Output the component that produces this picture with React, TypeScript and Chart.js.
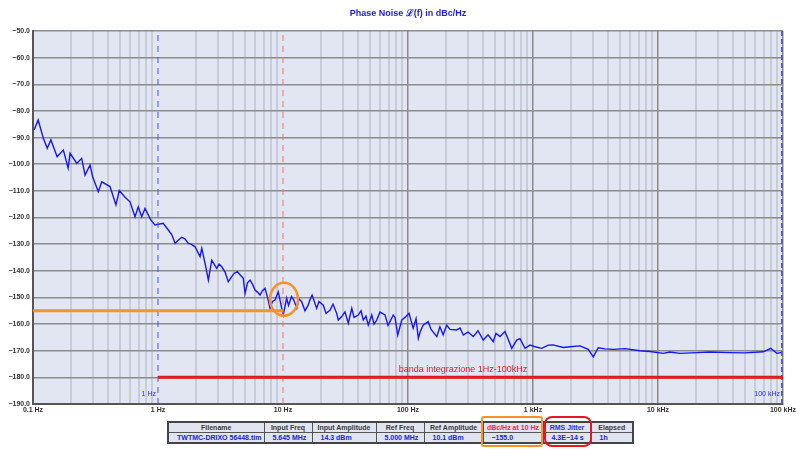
import React, { useEffect, useRef } from "react";
import { Chart, registerables } from "chart.js";

Chart.register(...registerables);

// ---------- data ----------
const freqHz = [
  0.102, 0.11, 0.121, 0.13, 0.139, 0.156, 0.175, 0.191, 0.198, 0.224, 0.245, 0.261, 0.286, 0.3, 0.333, 0.355,
  0.413, 0.461, 0.49, 0.545, 0.597, 0.655, 0.695, 0.741, 0.787, 0.875, 0.946,
  1.1, 1.21, 1.29, 1.37, 1.45, 1.55, 1.64, 1.75, 1.84, 1.98, 2.17, 2.24, 2.38, 2.53, 2.69, 2.95, 3.08, 3.24,
  3.44, 3.65, 3.89, 4.06, 4.31, 4.53, 4.81, 4.97, 5.2, 5.45, 5.7, 5.97, 6.25, 6.55, 6.85, 7.18, 7.52, 7.87,
  8.24, 8.63, 9.17, 9.77,
  10.05, 10.7, 11.07, 11.7, 12.2, 12.9, 13.4, 14.1, 15.0, 15.9, 16.4, 17.1, 18.6, 19.4, 21.0, 22.1, 23.8,
  25.1, 26.9, 27.7, 29.5, 31.3, 33.3, 35.5, 37.0, 40.0, 42.1, 43.9, 46.1, 48.1, 51.3, 53.5, 56.2, 59.7, 65.5,
  69.2, 71.8, 76.2, 78.7, 82.8, 89.1, 94.6,
  102, 110, 116, 121, 125, 132, 145, 153, 170, 180, 191, 204, 217, 245, 261, 277, 302, 333, 363, 400, 437,
  481, 506, 545, 597, 631, 676, 741, 787, 863, 946,
  1038, 1175, 1324, 1445, 1746, 1977, 2377, 2767, 3034, 3327, 3767, 4385, 5445, 7178, 8630,
  11015, 12470, 15000, 20417, 26060, 37670, 49660, 69500, 79800, 89100, 100000,
];
const phaseNoiseDbc = [
  -87.2, -83.4, -90.3, -94.0, -90.9, -97.2, -94.7, -101.5, -95.9, -99.7, -97.8, -104.1, -100.3, -104.7, -110.3, -106.6,
  -108.4, -115.3, -109.9, -112.4, -114.1, -119.7, -116.0, -119.7, -116.6, -120.9, -122.8,
  -122.2, -124.7, -126.5, -129.7, -128.5, -127.4, -128.0, -129.7, -130.0, -131.0, -134.7, -131.6, -137.2, -143.5, -136.0, -139.1, -137.5, -138.5,
  -140.5, -144.1, -142.2, -141.0, -140.3, -141.5, -142.8, -148.5, -144.5, -143.5, -145.0, -147.2, -148.0, -149.1, -147.5, -146.6, -150.0, -154.1,
  -151.5, -151.0, -147.9, -154.1,
  -156.6, -150.3, -153.0, -149.7, -151.0, -154.1, -150.5, -151.6, -155.0, -152.9, -151.0, -149.1, -154.1, -151.5, -152.9, -156.0, -154.7,
  -152.5, -156.0, -158.5, -157.2, -155.4, -159.7, -154.1, -157.5, -156.6, -155.0, -158.5, -157.0, -160.4, -156.6, -160.0, -158.5, -155.5, -156.6,
  -160.5, -159.1, -156.6, -157.5, -164.1, -158.5, -157.5,
  -156.0, -161.6, -158.0, -165.4, -163.0, -160.4, -159.1, -162.0, -164.7, -161.0, -164.0, -160.4, -162.0, -162.2, -161.5, -164.1, -163.0, -164.7, -162.5, -166.0, -164.0,
  -166.6, -163.5, -164.7, -162.8, -165.5, -169.1, -166.0, -165.5, -169.1, -167.9,
  -168.5, -169.1, -167.9, -167.8, -168.8, -168.5, -168.2, -169.5, -172.3, -168.9, -169.3, -169.5, -169.2, -170.0, -170.3,
  -171.0, -170.5, -171.0, -170.7, -170.5, -170.7, -170.8, -170.4, -169.1, -171.0, -170.6,
];

const decadeLabels = ["0.1 Hz", "1 Hz", "10 Hz", "100 Hz", "1 kHz", "10 kHz", "100 kHz"];
const yTickMin = -190;
const yTickMax = -50;

const integrationBand = [1, 100000];
const integrationLevel = -180;
const integrationText = "banda integrazione 1Hz-100kHz";
const refFreq = 10;
const refLevel = -155;

const titleText = "Phase Noise \u2112(f) in dBc/Hz";

const tableHeaders = ["Filename", "Input Freq", "Input Amplitude", "Ref Freq", "Ref Amplitude", "dBc/Hz at 10 Hz", "RMS Jitter", "Elapsed"];
const tableValues = ["TWTMC-DRIXO 56448.tim", "5.645 MHz", "14.3 dBm", "5.000 MHz", "10.1 dBm", "\u2212155.0", "4.3E\u221214 s", "1h"];
const tableColWidths = [96, 48, 64, 48, 59, 60, 48, 42];

const isDecade = (v: number) => Math.abs(Math.log10(v) - Math.round(Math.log10(v))) < 1e-6;
const isMarkerLine = (v: number) => Math.abs(v - integrationBand[0]) < 1e-9 || Math.abs(v - refFreq) < 1e-9;

const overlayPlugin = {
  id: "overlay",
  beforeDraw(chart: any) {
    const { ctx, chartArea: a } = chart;
    ctx.save();
    ctx.fillStyle = "#ffffff";
    ctx.fillRect(0, 0, chart.width, chart.height);
    ctx.fillStyle = "#e1e6f2";
    ctx.fillRect(a.left, a.top, a.right - a.left, a.bottom - a.top);
    ctx.restore();
  },
  afterDatasetsDraw(chart: any) {
    const { ctx, chartArea: a, scales } = chart;
    const x = scales.x;
    const y = scales.y;
    ctx.save();
    // title
    ctx.fillStyle = "#1a1aff";
    ctx.font = "bold 9px 'Liberation Sans', Arial, sans-serif";
    ctx.textAlign = "center";
    ctx.textBaseline = "middle";
    ctx.fillText(titleText, (a.left + a.right) / 2, 14);

    // dashed verticals
    const x1 = x.getPixelForValue(integrationBand[0]);
    const x2 = x.getPixelForValue(integrationBand[1]);
    const x10 = x.getPixelForValue(refFreq);
    ctx.lineWidth = 1;
    ctx.setLineDash([6, 5]);
    ctx.strokeStyle = "#4d4dff";
    ctx.beginPath();
    ctx.moveTo(x1, a.top + 4);
    ctx.lineTo(x1, a.bottom);
    ctx.stroke();
    ctx.strokeStyle = "#e07a7a";
    ctx.beginPath();
    ctx.moveTo(x10, a.top + 4);
    ctx.lineTo(x10, a.bottom);
    ctx.stroke();
    ctx.lineWidth = 2;
    ctx.setLineDash([5, 3]);
    ctx.strokeStyle = "#5a5acc";
    ctx.beginPath();
    ctx.moveTo(x2 - 1, a.top);
    ctx.lineTo(x2 - 1, a.bottom);
    ctx.stroke();
    ctx.setLineDash([]);

    // dashed line labels
    ctx.fillStyle = "#2a2aff";
    ctx.font = "7px 'Liberation Sans', Arial, sans-serif";
    ctx.textAlign = "right";
    ctx.fillText("1 Hz", x1 - 2, a.bottom - 10);
    ctx.fillText("100 kHz", x2 - 3, a.bottom - 10);

    // integration band line
    const yInt = y.getPixelForValue(integrationLevel);
    ctx.strokeStyle = "#e8161d";
    ctx.lineWidth = 3;
    ctx.beginPath();
    ctx.moveTo(x1, yInt);
    ctx.lineTo(x2, yInt);
    ctx.stroke();
    ctx.fillStyle = "#e8161d";
    ctx.font = "9px 'Liberation Sans', Arial, sans-serif";
    ctx.textAlign = "center";
    ctx.fillText(integrationText, 463, yInt - 8);

    // reference level line
    const yRef = y.getPixelForValue(refLevel);
    ctx.strokeStyle = "#f7922a";
    ctx.lineWidth = 3;
    ctx.beginPath();
    ctx.moveTo(a.left, yRef);
    ctx.lineTo(x10, yRef);
    ctx.stroke();
    ctx.lineWidth = 2.5;
    ctx.beginPath();
    ctx.ellipse(x10 + 1, yRef - 11.5, 14, 16.5, 0, 0, Math.PI * 2);
    ctx.stroke();
    ctx.restore();
  },
};

export default function App() {
  const canvasRef = useRef<HTMLCanvasElement | null>(null);

  useEffect(() => {
    if (!canvasRef.current) return;
    const points = freqHz.map((f, i) => ({ x: f, y: phaseNoiseDbc[i] }));
    const chart = new Chart(canvasRef.current, {
      type: "line",
      data: {
        datasets: [
          {
            data: points,
            borderColor: "#1515ff",
            borderWidth: 1.4,
            pointRadius: 0,
            tension: 0,
            fill: false,
          },
        ],
      },
      options: {
        responsive: false,
        animation: false,
        devicePixelRatio: 1,
        layout: { padding: { top: 31, right: 17, left: 0, bottom: 0 } },
        plugins: { legend: { display: false }, tooltip: { enabled: false }, title: { display: false } },
        scales: {
          x: {
            type: "logarithmic",
            min: 0.1,
            max: 100000,
            afterBuildTicks: (scale: any) => {
              const t: any[] = [];
              for (let e = -1; e < 5; e++) {
                for (let m = 1; m < 10; m++) t.push({ value: Number((m * Math.pow(10, e)).toPrecision(3)) });
              }
              t.push({ value: 100000 });
              scale.ticks = t;
            },
            afterFit: (scale: any) => {
              scale.height = 56;
              scale.paddingLeft = 0;
              scale.paddingRight = 0;
            },
            ticks: {
              autoSkip: false,
              maxRotation: 0,
              minRotation: 0,
              padding: 2,
              color: "#333333",
              font: { size: 7, weight: "bold", family: "'Liberation Sans', Arial, sans-serif" },
              callback: (v: any) => {
                const n = Number(v);
                if (!isDecade(n)) return "";
                return decadeLabels[Math.round(Math.log10(n)) + 1];
              },
            },
            grid: {
              drawTicks: false,
              color: (c: any) => {
                if (!c.tick) return "#c6ccd8";
                if (isMarkerLine(c.tick.value)) return "rgba(0,0,0,0)";
                return isDecade(c.tick.value) ? "#8a8a8a" : "#c6ccd8";
              },
              lineWidth: (c: any) => (c.tick && isDecade(c.tick.value) ? 1.5 : 2),
            },
            border: { color: "#555555", width: 2 },
          },
          y: {
            type: "linear",
            min: yTickMin,
            max: yTickMax,
            afterFit: (scale: any) => {
              scale.width = 33;
              scale.paddingTop = 0;
              scale.paddingBottom = 0;
            },
            ticks: {
              stepSize: 10,
              padding: 3,
              color: "#333333",
              font: { size: 7, weight: "bold", family: "'Liberation Sans', Arial, sans-serif" },
              callback: (v: any) => (Number(v) < 0 ? "\u2212" : "") + Math.abs(Number(v)).toFixed(1),
            },
            grid: { drawTicks: false, color: "#8c8c8c", lineWidth: 1.5 },
            border: { color: "#555555", width: 2 },
          },
        },
      },
      plugins: [overlayPlugin],
    });
    return () => chart.destroy();
  }, []);

  const cellBase: React.CSSProperties = {
    border: "1px solid #555",
    padding: 0,
    height: 9,
    lineHeight: "9px",
    fontFamily: "'Liberation Sans', Arial, sans-serif",
    fontWeight: "bold",
    fontSize: 7,
    whiteSpace: "nowrap",
    overflow: "hidden",
  };

  return (
    <div style={{ position: "absolute", left: 0, top: 0, width: 800, height: 460, background: "#fff" }}>
      <canvas ref={canvasRef} width={800} height={460} style={{ width: 800, height: 460, display: "block" }} />
      <table
        style={{
          position: "absolute",
          left: 167,
          top: 421,
          borderCollapse: "collapse",
          border: "2px solid #444",
          background: "#dfe4f0",
          tableLayout: "fixed",
          width: 466,
        }}
      >
        <colgroup>
          {tableColWidths.map((w, i) => (
            <col key={i} style={{ width: w }} />
          ))}
        </colgroup>
        <tbody>
          <tr>
            {tableHeaders.map((h, i) => (
              <td key={i} style={{ ...cellBase, textAlign: "center", color: i === 5 ? "#ff2a2a" : i === 6 ? "#2a2aff" : "#3a3a3a" }}>
                {h}
              </td>
            ))}
          </tr>
          <tr>
            {tableValues.map((v, i) => (
              <td key={i} style={{ ...cellBase, textAlign: "left", paddingLeft: 8, color: "#2020e0" }}>
                {v}
              </td>
            ))}
          </tr>
        </tbody>
      </table>
      <div
        style={{
          position: "absolute",
          left: 481,
          top: 416,
          width: 58,
          height: 27,
          border: "2.5px solid #f7922a",
          borderRadius: 3,
        }}
      />
      <div
        style={{
          position: "absolute",
          left: 544,
          top: 416,
          width: 44,
          height: 27,
          border: "2.5px solid #e8161d",
          borderRadius: 8,
        }}
      />
    </div>
  );
}
